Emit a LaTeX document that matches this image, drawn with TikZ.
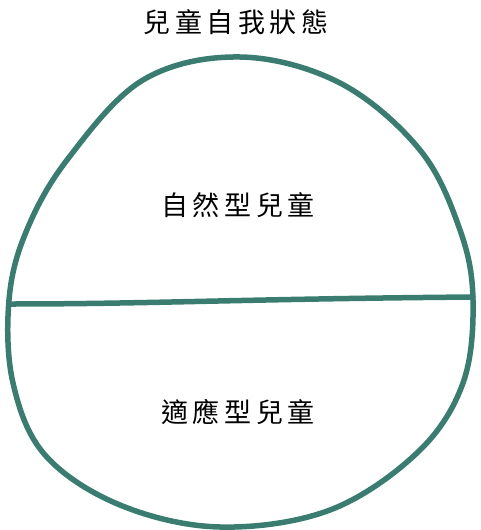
\documentclass[tikz,border=0pt]{standalone}
\usepackage{fontspec}
\newfontfamily\cjk{Noto Sans CJK TC}
\usetikzlibrary{positioning}
\definecolor{egoteal}{RGB}{58,124,112}
\tikzset{
  egolabel/.style={font=\cjk\fontsize{27}{31}\selectfont, inner sep=0pt},
  egoline/.style={draw=egoteal, line width=5.5pt, line cap=round, line join=round}
}
\begin{document}
\begin{tikzpicture}[x=1pt, y=-1pt]
  \useasboundingbox (0,0) rectangle (480,530);
  % outer circle, hand drawn
  \draw[egoline] plot[smooth cycle, tension=0.6] coordinates {
    (9,300) (26,232) (67,160) (143,80) (240,57) (340,83)
    (420,150) (460,230) (473,300) (463,383) (418,452)
    (330,510) (220,527) (120,505) (45,455) (13,383)};
  \coordinate (divleft) at (9,304);
  \coordinate (divright) at (473,297);
  % dividing line
  \draw[egoline] (divleft) .. controls (150,304) and (240,299) .. (divright);
  \node[egolabel] (title) at (236,22) {兒\,童\,自\,我\,狀\,態};
  \node[egolabel] (natural) at (238,205) {自\,然\,型\,兒\,童};
  \node[egolabel] (adapted) at (238,412) {適\,應\,型\,兒\,童};
\end{tikzpicture}
\end{document}
